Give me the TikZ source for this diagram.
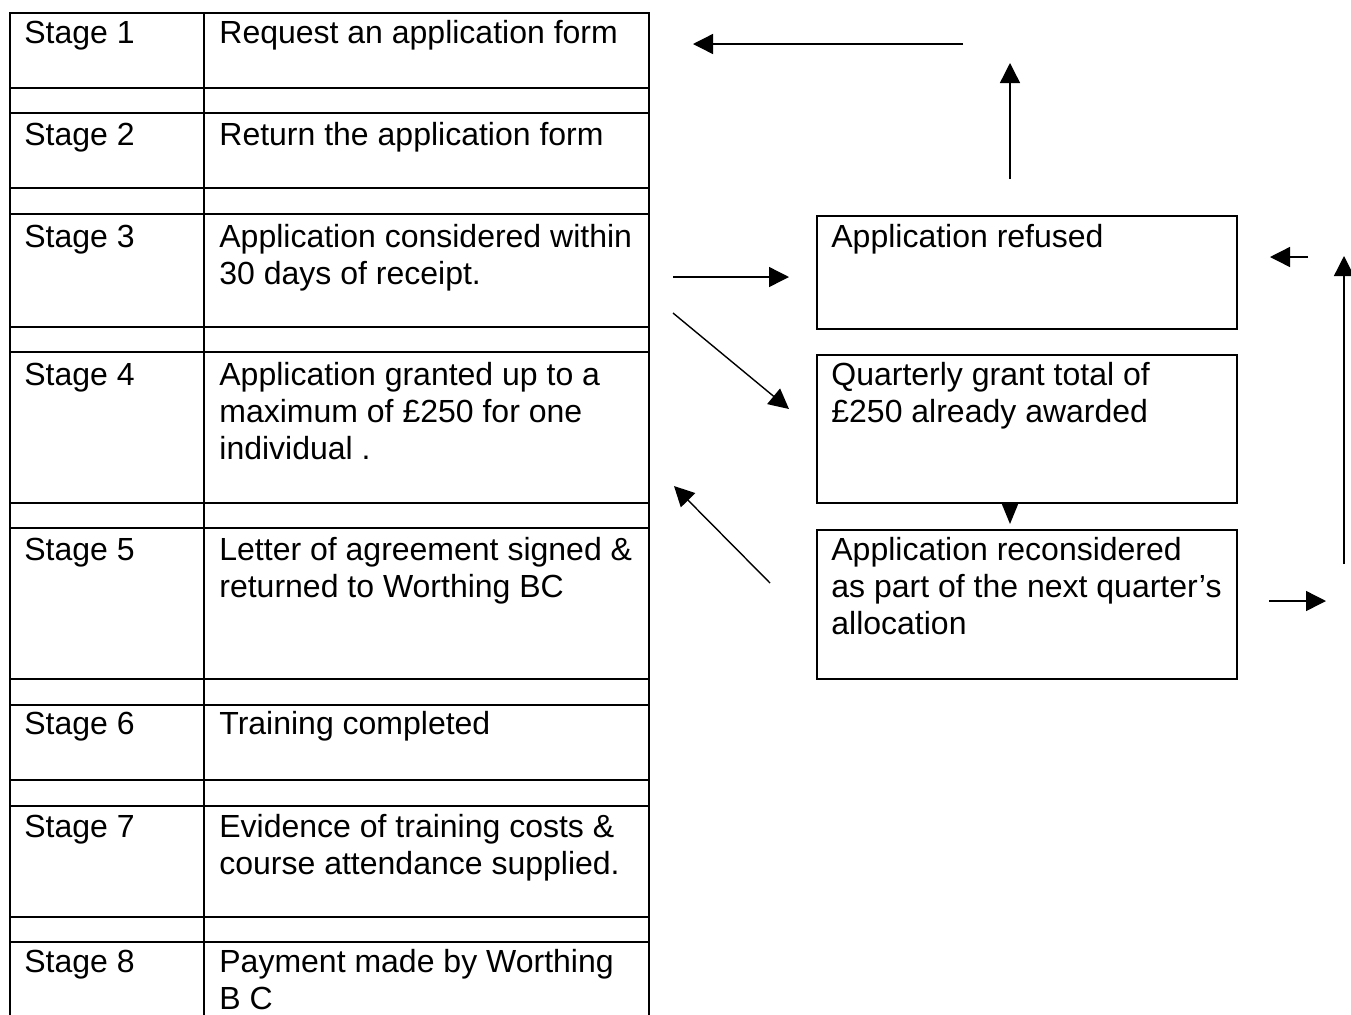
\documentclass[tikz,border=0pt]{standalone}
\usepackage{fontspec}
\setmainfont{Liberation Sans}
\usetikzlibrary{arrows.meta}
\newcommand{\mlines}[1]{\begin{tabular}[t]{@{}l@{}}#1\end{tabular}}
\begin{document}
\begin{tikzpicture}[x=0.5pt,y=-0.5pt,
  txt/.style={anchor=base west, inner sep=0pt, font=\fontsize{16pt}{18.6pt}\selectfont},
  rule/.style={line width=1pt},
  boxnode/.style={draw, line width=1pt, anchor=north west, minimum width=210pt, inner sep=0pt},
  arr/.style={line width=0.7pt, -{Triangle[length=10pt,width=10pt]}},
  arrsmall/.style={line width=0.7pt, -{Triangle[length=10pt,width=8pt]}}]
\useasboundingbox (0,0) rectangle (1351,1014);
\clip (0,0) rectangle (1351,1014);
\fill[white] (0,0) rectangle (1351,1014);

% table
\draw[rule] (10,1030) -- (10,13) -- (649,13) -- (649,1030);
\draw[rule] (204,13) -- (204,1030);
\foreach \yy in {88,113,188,214,327,352,502.5,528,679,705,780,806,917,942}
  \draw[rule] (10,\yy) -- (649,\yy);

% stage labels
\node[txt] (s1) at (24,43) {Stage 1};
\node[txt] (s2) at (24,145) {Stage 2};
\node[txt] (s3) at (24,247) {Stage 3};
\node[txt] (s4) at (24,385) {Stage 4};
\node[txt] (s5) at (24,560) {Stage 5};
\node[txt] (s6) at (24,734) {Stage 6};
\node[txt] (s7) at (24,837) {Stage 7};
\node[txt] (s8) at (24,972) {Stage 8};

% descriptions
\node[txt] (d1) at (219,43) {Request an application form};
\node[txt] (d2) at (219,145) {Return the application form};
\node[txt] (d3) at (219,247) {\mlines{Application considered within\\30 days of receipt.}};
\node[txt] (d4) at (219,385) {\mlines{Application granted up to a\\maximum of £250 for one\\individual .}};
\node[txt] (d5) at (219,560) {\mlines{Letter of agreement signed \&\\returned to Worthing BC}};
\node[txt] (d6) at (219,734) {Training completed};
\node[txt] (d7) at (219,837) {\mlines{Evidence of training costs \&\\course attendance supplied.}};
\node[txt] (d8) at (219,972) {\mlines{Payment made by Worthing\\B C}};

% down arrow between boxes (drawn first, partly hidden by box)
\coordinate (dnA) at (1010,490);
\coordinate (dnB) at (1010,524);
\draw[arrsmall] (dnA) -- (dnB);

% right boxes
\node[boxnode, minimum height=56.5pt] (refused) at (816,215) {};
\node[boxnode, minimum height=74pt, fill=white] (quarterly) at (816,354) {};
\node[boxnode, minimum height=74.5pt] (recon) at (816,529) {};
\node[txt] (refusedtxt) at (831,247) {Application refused};
\node[txt] (quartertxt) at (831,385) {\mlines{Quarterly grant total of\\£250 already awarded}};
\node[txt] (recontxt) at (831,560) {\mlines{Application reconsidered\\as part of the next quarter’s\\allocation}};

% free arrows
\coordinate (tlA) at (963,44);  \coordinate (tlB) at (693,44);
\coordinate (upA) at (1010,179); \coordinate (upB) at (1010,63);
\coordinate (rtA) at (673,277); \coordinate (rtB) at (789,277);
\coordinate (dgA) at (673,313); \coordinate (dgB) at (789,409);
\coordinate (ulA) at (770,583); \coordinate (ulB) at (674,486);
\coordinate (slA) at (1308,257); \coordinate (slB) at (1270,257);
\coordinate (urA) at (1344,564); \coordinate (urB) at (1344,256);
\coordinate (srA) at (1269,601); \coordinate (srB) at (1326,601);
\draw[arr] (tlA) -- (tlB);
\draw[arr] (upA) -- (upB);
\draw[arr] (rtA) -- (rtB);
\draw[arr] (dgA) -- (dgB);
\draw[arr] (ulA) -- (ulB);
\draw[arr] (slA) -- (slB);
\draw[arr] (urA) -- (urB);
\draw[arr] (srA) -- (srB);
\end{tikzpicture}
\end{document}
